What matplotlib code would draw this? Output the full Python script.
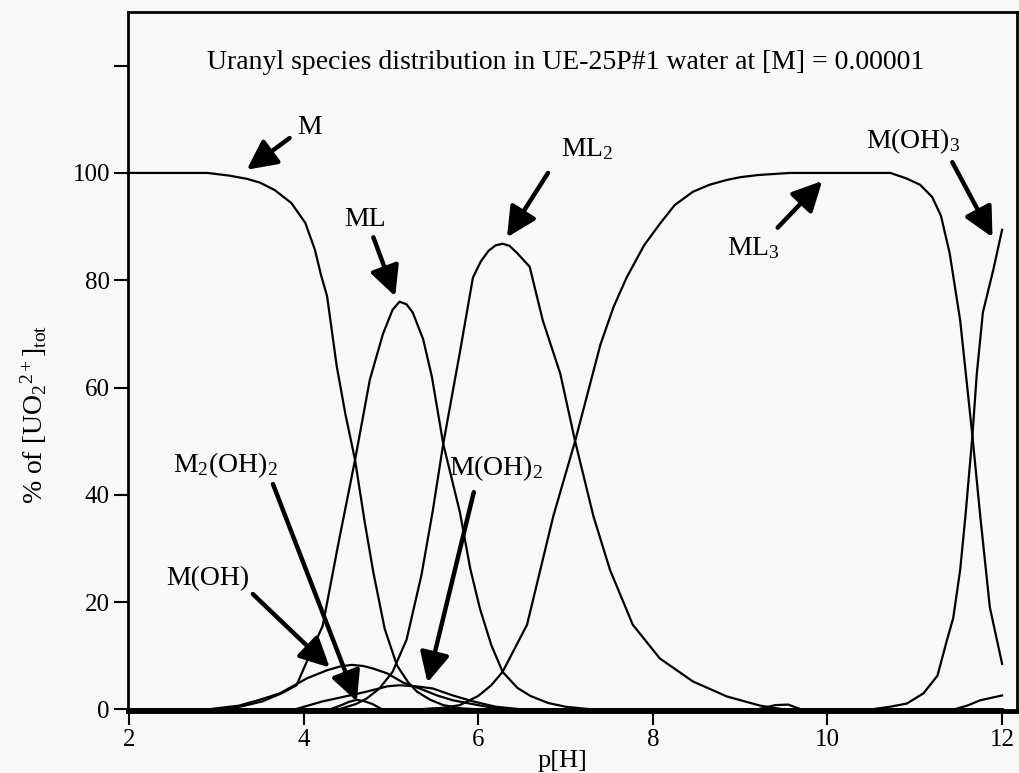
import matplotlib
matplotlib.use("Agg")
import matplotlib.pyplot as plt

plt.rcParams['font.family'] = ['Liberation Serif', 'DejaVu Serif']
plt.rcParams['mathtext.fontset'] = 'custom'
plt.rcParams['mathtext.rm'] = 'Liberation Serif'
plt.rcParams['mathtext.it'] = 'Liberation Serif:italic'

# ---- data (pH, % of total uranyl) ----
m_x = [2.0, 2.9, 3.15, 3.35, 3.5, 3.67, 3.86, 4.02, 4.13, 4.2, 4.27, 4.38, 4.48, 4.59,
       4.7, 4.8, 4.93, 5.07, 5.2, 5.3, 5.45, 5.6, 5.8, 6.0, 12.0]
m_y = [100, 100, 99.5, 98.9, 98.2, 96.8, 94.4, 90.7, 85.7, 81, 77, 64, 55, 46.5,
       35, 25.5, 15, 8.2, 5, 3.3, 1.8, 0.8, 0.2, 0, 0]

ml_x = [2.0, 3.1, 3.3, 3.53, 3.75, 3.92, 4.04, 4.22, 4.4, 4.59, 4.76, 4.91, 5.02, 5.1,
        5.18, 5.25, 5.37, 5.47, 5.6, 5.79, 5.91, 6.02, 6.15, 6.28, 6.45, 6.6, 6.8, 7.0, 7.3, 12.0]
ml_y = [0, 0, 0.6, 1.5, 3, 4.5, 9, 15.6, 31, 46.5, 61.5, 70, 74.5, 76,
        75.5, 74, 69, 62, 49.5, 36.8, 26.2, 18.8, 12, 7, 4, 2.5, 1.2, 0.5, 0, 0]

ml2_x = [2.0, 4.4, 4.6, 4.72, 4.87, 5.02, 5.18, 5.35, 5.48, 5.6, 5.79, 5.94, 6.03, 6.12,
         6.2, 6.28, 6.36, 6.45, 6.59, 6.74, 6.94, 7.11, 7.32, 7.51, 7.77, 8.08, 8.46,
         8.85, 9.23, 9.5, 12.0]
ml2_y = [0, 0, 1, 2, 3.9, 7, 13, 25, 37, 49.5, 66.5, 80.5, 83.5, 85.5,
         86.5, 86.8, 86.4, 85, 82.5, 72.5, 62.6, 50, 36, 26, 15.8, 9.5, 5.2,
         2.4, 0.7, 0, 0]

ml3_x = [2.0, 5.3, 5.6, 5.79, 6.0, 6.15, 6.28, 6.56, 6.86, 7.11, 7.4, 7.55, 7.7, 7.9,
         8.08, 8.25, 8.46, 8.65, 8.85, 9.0, 9.2, 9.57, 10.0, 10.72, 10.9, 11.06, 11.2,
         11.3, 11.4, 11.52, 11.66, 11.75, 11.86, 12.0]
ml3_y = [0, 0, 0.3, 0.8, 2.5, 4.5, 7, 15.8, 36, 50, 68, 75, 80.5, 86.5,
         90.5, 94, 96.5, 97.8, 98.7, 99.2, 99.6, 100, 100, 100, 99, 97.8, 95.5,
         92, 85, 72.5, 51, 36, 19, 8.5]

moh3_x = [2.0, 10.5, 10.72, 10.91, 11.1, 11.26, 11.37, 11.44, 11.52, 11.58, 11.66,
          11.71, 11.78, 11.9, 12.0]
moh3_y = [0, 0, 0.5, 1.1, 3, 6.3, 13, 17, 26, 36, 51, 62.5, 74, 82, 89.4]

moh_x = [2.0, 2.9, 3.26, 3.5, 3.73, 4.04, 4.27, 4.42, 4.55, 4.68, 4.8, 4.96, 5.14,
         5.33, 5.53, 5.71, 5.9, 6.1, 6.3, 12.0]
moh_y = [0, 0, 0.7, 1.8, 3.0, 5.8, 7.3, 8.0, 8.3, 8.1, 7.6, 6.7, 5.0,
         3.9, 2.6, 1.7, 1.1, 0.5, 0, 0]

moh2_x = [2.0, 3.9, 4.22, 4.53, 4.72, 4.96, 5.1, 5.29, 5.48, 5.71, 5.94, 6.2, 6.5, 12.0]
moh2_y = [0, 0, 1.5, 2.6, 3.3, 4.3, 4.5, 4.3, 3.9, 2.6, 1.5, 0.5, 0, 0]

m2oh2_x = [2.0, 4.3, 4.42, 4.52, 4.61, 4.7, 4.79, 4.9, 12.0]
m2oh2_y = [0, 0, 0.7, 1.4, 1.8, 1.5, 1.0, 0, 0]

moh4_x = [2.0, 11.45, 11.6, 11.75, 12.0]
moh4_y = [0, 0, 0.7, 1.7, 2.6]

minor_x = [2.0, 9.2, 9.4, 9.55, 9.7, 12.0]
minor_y = [0, 0, 0.8, 0.9, 0, 0]

x_ticks = [2, 4, 6, 8, 10, 12]
y_ticks = [0, 20, 40, 60, 80, 100, 120]
y_ticklabels = ['0', '20', '40', '60', '80', '100', '']

title_text = "Uranyl species distribution in UE-25P#1 water at [M] = 0.00001"

# ---- figure ----
W, H = 1020, 773
bg = '#f8f8f8'
fig = plt.figure(figsize=(W / 100, H / 100), dpi=100, facecolor=bg)
ax = fig.add_axes([0.1255, 0.0802, 0.8715, 0.9043])
ax.set_facecolor(bg)

series = [(m_x, m_y), (ml_x, ml_y), (ml2_x, ml2_y), (ml3_x, ml3_y), (moh3_x, moh3_y),
          (moh_x, moh_y), (moh2_x, moh2_y), (m2oh2_x, m2oh2_y), (moh4_x, moh4_y),
          (minor_x, minor_y)]
for sx, sy in series:
    ax.plot(sx, sy, color='black', lw=1.6, solid_joinstyle='round', clip_on=False, zorder=3)

ax.set_xlim(1.99, 12.17)
ax.set_ylim(-0.3, 130)
ax.set_xticks(x_ticks)
ax.set_yticks(y_ticks)
ax.set_yticklabels(y_ticklabels)
ax.tick_params(direction='out', length=10, width=1.5, labelsize=18, colors='black', pad=3)
for s in ax.spines.values():
    s.set_linewidth(2)
ax.spines['bottom'].set_linewidth(3.5)

fig.text(562 / W, 1 - 761 / H, 'p[H]', fontsize=19, ha='center', va='center')
fig.text(34 / W, 1 - 414 / H, r'% of [UO$_2$$^{2+}$]$_{\rm tot}$', fontsize=20,
         rotation=90, ha='center', va='center')

ax.text(7.0, 120.5, title_text, fontsize=20, ha='center', va='center')

arrow = dict(arrowstyle='-|>,head_length=0.9,head_width=0.45', lw=3.2, color='black',
             shrinkA=0, shrinkB=0, mutation_scale=20)

def label(txt, xy, xytext, tail):
    ax.text(xytext[0], xytext[1], txt, fontsize=20, ha='center', va='center')
    ax.annotate('', xy=xy, xytext=tail, arrowprops=arrow)

label('M', (3.35, 100.6), (4.07, 108.5), (3.84, 106.5))
label('ML', (5.05, 77.0), (4.7, 91.3), (4.8, 88.0))
label(r'ML$_2$', (6.33, 88.0), (7.25, 104.5), (6.8, 100.0))
label(r'ML$_3$', (9.94, 98.5), (9.15, 86.0), (9.43, 89.8))
label(r'M(OH)$_3$', (11.89, 88.0), (10.98, 106.0), (11.43, 102.0))
label(r'M$_2$(OH)$_2$', (4.61, 1.5), (3.1, 45.5), (3.65, 42.0))
label('M(OH)', (4.3, 7.8), (2.9, 24.3), (3.42, 21.5))
label(r'M(OH)$_2$', (5.42, 5.0), (6.2, 45.0), (5.95, 40.5))

fig.savefig('out.png', dpi=100, facecolor=bg)
